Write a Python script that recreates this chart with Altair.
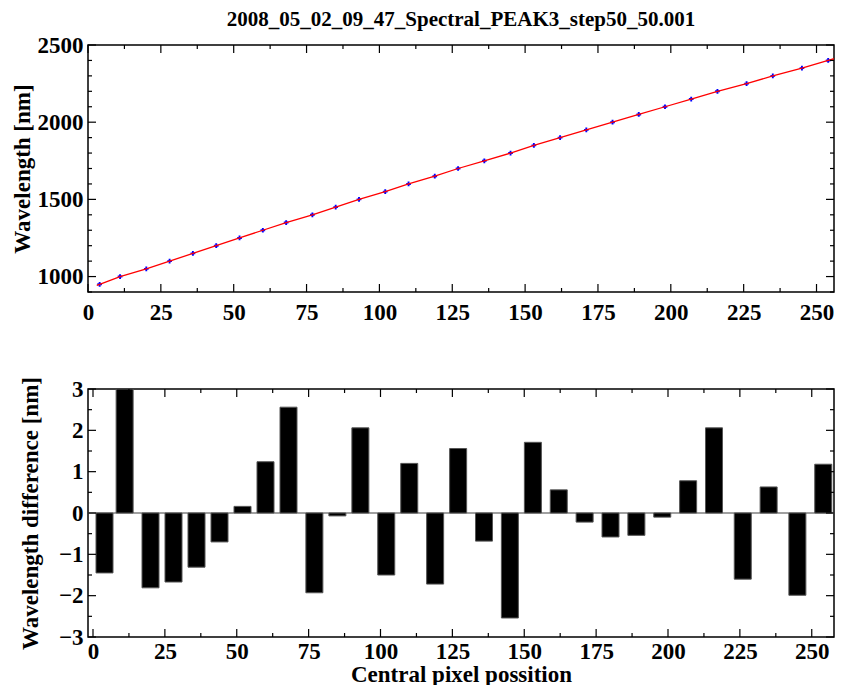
import altair as alt
import pandas as pd

FONT = "Liberation Serif"
title_text = "2008_05_02_09_47_Spectral_PEAK3_step50_50.001"

# measured points (central pixel position vs wavelength)
pixel_pos = [4, 11, 20, 28, 36, 44, 52, 60, 68, 77, 85, 93, 102, 110, 119,
             127, 136, 145, 153, 162, 171, 180, 189, 198, 207, 216, 226, 235, 245, 254]
wavelength = [950, 1000, 1050, 1100, 1150, 1200, 1250, 1300, 1350, 1400,
              1450, 1500, 1550, 1600, 1650, 1700, 1750, 1800, 1850, 1900,
              1950, 2000, 2050, 2100, 2150, 2200, 2250, 2300, 2350, 2400]
# wavelength difference (residuals) [nm]
diff = [-1.45, 3.0, -1.81, -1.67, -1.31, -0.70, 0.16, 1.24, 2.56, -1.93,
        -0.07, 2.06, -1.50, 1.20, -1.72, 1.56, -0.68, -2.54, 1.71, 0.56,
        -0.22, -0.58, -0.54, -0.10, 0.78, 2.06, -1.60, 0.63, -1.99, 1.18]
# fitted curve
fit_px = [3, 4, 11, 20, 28, 36, 44, 52, 60, 68, 77, 85, 93, 102, 110, 119,
          127, 136, 145, 153, 162, 171, 180, 189, 198, 207, 216, 226, 235, 245, 254, 256]
fit_nm = [943, 950, 1000, 1050, 1100, 1150, 1200, 1250, 1300, 1350, 1400,
          1450, 1500, 1550, 1600, 1650, 1700, 1750, 1800, 1850, 1900,
          1950, 2000, 2050, 2100, 2150, 2200, 2250, 2300, 2350, 2400, 2411]

# axis ticks
x_major = [0, 25, 50, 75, 100, 125, 150, 175, 200, 225, 250]
x_minor = [12.5, 37.5, 62.5, 87.5, 112.5, 137.5, 162.5, 187.5, 212.5, 237.5]
y1_major = [1000, 1500, 2000, 2500]
y1_minor = [900, 1100, 1200, 1300, 1400, 1600, 1700, 1800, 1900, 2100, 2200, 2300, 2400]
y2_major = [-3, -2, -1, 0, 1, 2, 3]
y2_minor = [-2.5, -1.5, -0.5, 0.5, 1.5, 2.5]

X_DOMAIN = [0, 256]
Y1_DOMAIN = [900, 2500]
Y2_DOMAIN = [-3, 3]
W = 746
H1 = 247
H2 = 248

pts = pd.DataFrame({"px": pixel_pos, "val": wavelength})
fit = pd.DataFrame({"px": fit_px, "val": fit_nm})
res = pd.DataFrame({"px": pixel_pos, "val": diff})

lab = dict(labelFont=FONT, labelFontWeight="bold", labelFontSize=23, labelColor="black",
           titleFont=FONT, titleFontWeight="bold", titleFontSize=23, titleColor="black",
           ticks=False, domain=False, grid=False, labelFlush=False, labelOverlap=False,
           format="d")

xs = alt.Scale(domain=X_DOMAIN, nice=False, zero=False)
y1s = alt.Scale(domain=Y1_DOMAIN, nice=False, zero=False)
y2s = alt.Scale(domain=Y2_DOMAIN, nice=False, zero=False)

x_axis_top = alt.Axis(values=x_major, title=None, labelPadding=9, **lab)
x_axis_bot = alt.Axis(values=x_major, title="Central pixel possition", labelPadding=3, titlePadding=0, **lab)
y_axis_top = alt.Axis(values=y1_major, title="Wavelength [nm]", labelPadding=5,
                      titleX=-66, titleBaseline="middle", **lab)
y_axis_bot = alt.Axis(values=y2_major, title="Wavelength difference [nm]", labelPadding=5,
                      titleX=-58, titleBaseline="middle", **lab)


def tick_layers(xax, ysc, yax, ymaj, ymin, H):
    layers = []
    for vals, L in ((x_major, 8), (x_minor, 4)):
        d = pd.DataFrame({"px": vals})
        layers.append(alt.Chart(d).mark_rule(color="black", strokeWidth=1.2).encode(
            x=alt.X("px:Q", scale=xs, axis=xax), y=alt.value(H), y2=alt.value(H - L)))
        layers.append(alt.Chart(d).mark_rule(color="black", strokeWidth=1.2).encode(
            x=alt.X("px:Q", scale=xs, axis=xax), y=alt.value(0), y2=alt.value(L)))
    for vals, L in ((ymaj, 8), (ymin, 4)):
        d = pd.DataFrame({"val": vals})
        layers.append(alt.Chart(d).mark_rule(color="black", strokeWidth=1.2).encode(
            y=alt.Y("val:Q", scale=ysc, axis=yax), x=alt.value(0), x2=alt.value(L)))
        layers.append(alt.Chart(d).mark_rule(color="black", strokeWidth=1.2).encode(
            y=alt.Y("val:Q", scale=ysc, axis=yax), x=alt.value(W), x2=alt.value(W - L)))
    return layers


top_points = alt.Chart(pts).mark_point(shape="cross", filled=True, size=22, color="#0000ff", opacity=1).encode(
    x=alt.X("px:Q", scale=xs, axis=x_axis_top),
    y=alt.Y("val:Q", scale=y1s, axis=y_axis_top),
)
top_line = alt.Chart(fit).mark_line(color="#ff0000", strokeWidth=1.3, clip=True).encode(
    x=alt.X("px:Q", scale=xs, axis=x_axis_top),
    y=alt.Y("val:Q", scale=y1s, axis=y_axis_top),
)

top = alt.layer(top_points, top_line, *tick_layers(x_axis_top, y1s, y_axis_top, y1_major, y1_minor, H1)).properties(
    width=W, height=H1,
    title=alt.TitleParams(title_text, font=FONT, fontSize=21, fontWeight="bold", color="black",
                          anchor="middle", frame="group", offset=4),
)

zero_df = pd.DataFrame({"val": [0]})
zero_line = alt.Chart(zero_df).mark_rule(color="#808080", strokeWidth=1.5).encode(
    y=alt.Y("val:Q", scale=y2s, axis=y_axis_bot))
bars = alt.Chart(res).mark_bar(size=17, color="black", stroke="#555555", strokeWidth=1, clip=True).encode(
    x=alt.X("px:Q", scale=xs, axis=x_axis_bot),
    y=alt.Y("val:Q", scale=y2s, stack=None, axis=y_axis_bot),
    y2=alt.datum(0),
)

bottom = alt.layer(zero_line, bars, *tick_layers(x_axis_bot, y2s, y_axis_bot, y2_major, y2_minor, H2)).properties(
    width=W, height=H2)

chart = alt.vconcat(top, bottom, spacing=50).properties(
    padding={"left": 2, "top": 0, "right": 0, "bottom": -2}
).configure_view(stroke="black", strokeWidth=1.5).configure_axis(
    labelFont=FONT, labelFontWeight="bold", labelFontSize=23, labelColor="black",
    titleFont=FONT, titleFontWeight="bold", titleFontSize=23, titleColor="black",
)

chart.save("out.html", embed_options={"renderer": "svg", "actions": False})
